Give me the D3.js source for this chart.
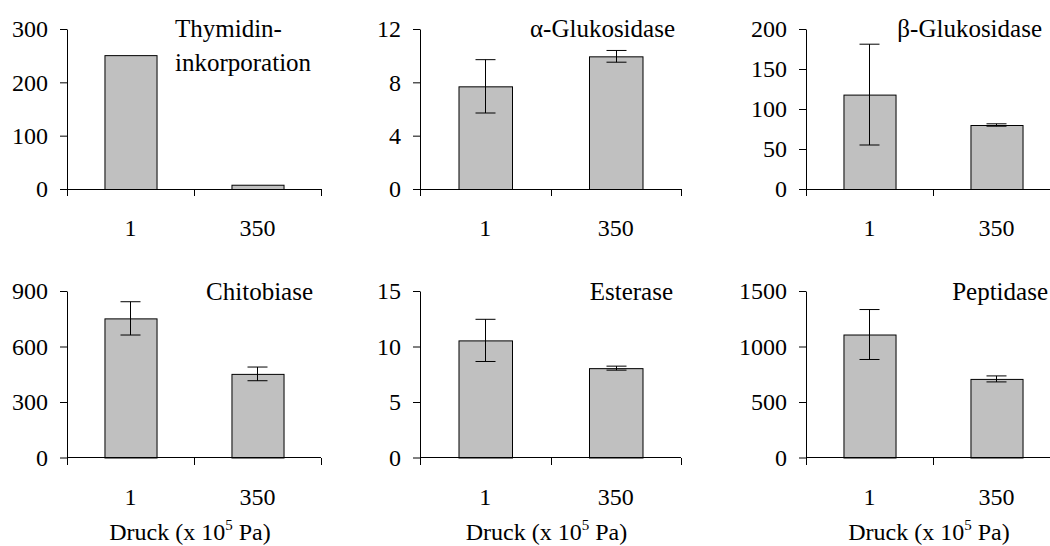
<!DOCTYPE html>
<html>
<head>
<meta charset="utf-8">
<script src="https://cdn.jsdelivr.net/npm/d3@7"></script>
<style>
    body { margin: 0; background: #fff; }
    svg { display: block; font-family: 'Liberation Serif', 'Times New Roman', serif; }
    .bar { fill: #c0c0c0; stroke: #000; stroke-width: 1; }
    .err { stroke: #000; stroke-width: 1; fill: none; }
    .axisLine { stroke: #000; stroke-width: 1; shape-rendering: crispEdges; }
</style>
</head>
<body>
<div class="container"></div>
<script>
const CATEGORIES = ['1', '350'];
const TITLES = [['Thymidin-', 'inkorporation'], ['α-Glukosidase'], ['β-Glukosidase'],
                ['Chitobiase'], ['Esterase'], ['Peptidase']];
const MEANS = [[251, 8], [7.7, 9.95], [118, 80], [752, 452], [10.55, 8.05], [1108, 708]];
const ERRORS = [[0, 0], [2.0, 0.44], [63, 1.5], [90, 37], [1.9, 0.18], [225, 27]];
const Y_MAX = [300, 12, 200, 900, 15, 1500];
const Y_TICKS = [[0, 100, 200, 300], [0, 4, 8, 12], [0, 50, 100, 150, 200],
                 [0, 300, 600, 900], [0, 5, 10, 15], [0, 500, 1000, 1500]];
const X_LABEL = 'Druck';

const WIDTH = 1050;
const HEIGHT = 546;

// panel layout (pixels)
const COL_X = [67, 420, 806];
const COL_W = [254, 261, 254];
const ROW_TOP = [29, 291];
const ROW_ZERO = [189, 457.5];
// title placement: [x relative to svg, anchor]
const TITLE_POS = [[175, 'start'], [675, 'end'], [1042, 'end'],
                   [313, 'end'], [673, 'end'], [1048, 'end']];

let svg = d3.select('.container').append('svg')
    .attr('width', WIDTH)
    .attr('height', HEIGHT);

TITLES.forEach((title, i) => {
    let col = i % 3, row = Math.floor(i / 3);
    let x0 = COL_X[col], w = COL_W[col];
    let top = ROW_TOP[row], zero = ROW_ZERO[row];

    let xScale = d3.scaleBand()
        .domain(CATEGORIES)
        .range([0, w])
        .paddingInner(0.59)
        .paddingOuter(0.295);

    let yScale = d3.scaleLinear()
        .domain([0, Y_MAX[i]])
        .range([zero - top, 0]);

    let g = svg.append('g')
        .attr('transform', `translate(${x0}, ${top})`);

    //--bars--
    g.selectAll('rect').data(CATEGORIES)
        .enter().append('rect')
        .classed('bar', true)
        .attr('x', c => xScale(c) + 0.5)
        .attr('y', (c, j) => yScale(MEANS[i][j]) + 0.5)
        .attr('width', xScale.bandwidth())
        .attr('height', (c, j) => yScale(0) - yScale(MEANS[i][j]));

    //--error bars--
    CATEGORIES.forEach((c, j) => {
        let e = ERRORS[i][j];
        if (!e) return;
        let cx = Math.round(xScale(c) + xScale.bandwidth() / 2) + 0.5;
        let hi = yScale(MEANS[i][j] + e), lo = yScale(MEANS[i][j] - e);
        let cap = 10;
        g.append('path')
            .classed('err', true)
            .attr('d', `M${cx},${hi}V${lo}M${cx - cap},${hi}H${cx + cap}M${cx - cap},${lo}H${cx + cap}`);
    });

    //--y axis--
    let yAxis = d3.axisLeft(yScale)
        .tickValues(Y_TICKS[i])
        .tickFormat(d3.format('d'))
        .tickSize(7)
        .tickSizeOuter(0)
        .tickPadding(12);

    let ya = g.append('g').call(yAxis)
        .attr('font-family', null)
        .attr('font-size', 24);
    ya.select('.domain').attr('stroke', '#000');
    ya.selectAll('.tick line').attr('stroke', '#000');
    ya.selectAll('.tick text').attr('fill', '#000');

    //--x axis--
    g.append('line')
        .classed('axisLine', true)
        .attr('x1', 0).attr('x2', w)
        .attr('y1', yScale(0)).attr('y2', yScale(0));

    g.selectAll('.xtick').data(d3.range(CATEGORIES.length + 1))
        .enter().append('line')
        .classed('axisLine', true)
        .attr('x1', k => Math.round(k * xScale.step()) + 0.5)
        .attr('x2', k => Math.round(k * xScale.step()) + 0.5)
        .attr('y1', yScale(0))
        .attr('y2', yScale(0) + 7);

    g.selectAll('.xlabel').data(CATEGORIES)
        .enter().append('text')
        .attr('text-anchor', 'middle')
        .attr('font-size', 24)
        .attr('x', c => xScale(c) + xScale.bandwidth() / 2)
        .attr('y', yScale(0) + 47)
        .text(c => c);

    //--title--
    let t = svg.append('text')
        .attr('text-anchor', TITLE_POS[i][1])
        .attr('font-size', 25)
        .attr('x', TITLE_POS[i][0])
        .attr('y', top + (row === 0 ? 8 : 9));
    title.forEach((line, k) => {
        t.append('tspan')
            .attr('x', TITLE_POS[i][0])
            .attr('dy', k === 0 ? 0 : 34)
            .text(line);
    });

    //--x axis title on bottom row--
    if (row === 1) {
        let lbl = svg.append('text')
            .attr('text-anchor', 'middle')
            .attr('font-size', 24)
            .attr('x', x0 + w / 2 - 4)
            .attr('y', 540);
        lbl.append('tspan').text(X_LABEL + ' (x 10');
        lbl.append('tspan').attr('font-size', 15).attr('dy', -10).text('5');
        lbl.append('tspan').attr('dy', 10).text(' Pa)');
    }
});
</script>
</body>
</html>
